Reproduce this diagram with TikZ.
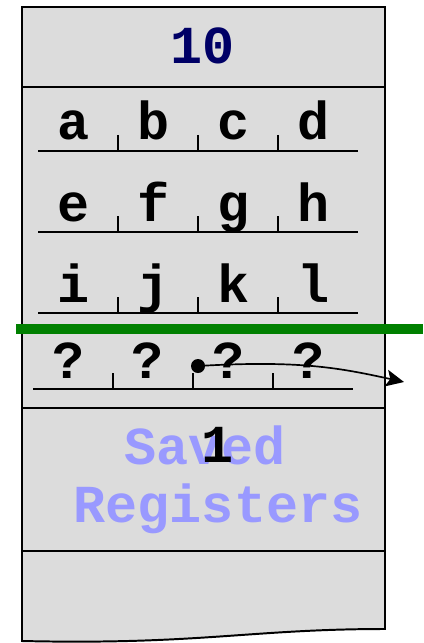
\documentclass[tikz,border=0pt]{standalone}
\usepackage{fontspec}
\setmonofont{Liberation Mono}
\usetikzlibrary{arrows.meta, positioning}
\definecolor{framegray}{HTML}{DCDCDC}
\definecolor{navyblue}{HTML}{000066}
\definecolor{regblue}{HTML}{9999FF}
\definecolor{bargreen}{HTML}{008000}

\begin{document}
\begin{tikzpicture}[
    x=0.025cm, y=-0.025cm,
    frame/.style={draw=black, line width=1.4pt},
    cell/.style={font=\ttfamily\bfseries\fontsize{38}{38}\selectfont,
                 anchor=base, inner sep=0pt},
    slots/.style={line width=1pt},
    arrow/.style={-{Stealth[length=4.5mm, width=4.2mm, inset=1mm]}, line width=1.2pt},
]
\useasboundingbox (0,0) rectangle (423,643);

% Stack frame outline
\path[frame, fill=framegray] (22,7) -- (385,7) -- (385,629)
    .. controls (250,629) and (200,645) .. (22,641) -- cycle;
\draw[frame] (22,87) -- (385,87);
\draw[frame] (22,408) -- (385,408);
\draw[frame] (22,551) -- (385,551);

\node[cell, text=navyblue] (ten) at (203,64) {10};

% Rows of bytes
\node[cell] (a) at (74,140) {a};
\node[cell] (b) at (154,140) {b};
\node[cell] (c) at (234,140) {c};
\node[cell] (d) at (314,140) {d};
\draw[slots] (38,151) -- (358,151)
    (118,135) -- (118,151) (198,135) -- (198,151) (278,135) -- (278,151);

\node[cell] (e) at (74,221) {e};
\node[cell] (f) at (154,221) {f};
\node[cell] (g) at (234,221) {g};
\node[cell] (h) at (314,221) {h};
\draw[slots] (38,232) -- (358,232)
    (118,216) -- (118,232) (198,216) -- (198,232) (278,216) -- (278,232);

\node[cell] (i) at (74,302) {i};
\node[cell] (j) at (154,302) {j};
\node[cell] (k) at (234,302) {k};
\node[cell] (l) at (314,302) {l};
\draw[slots] (38,313) -- (358,313)
    (118,297) -- (118,313) (198,297) -- (198,313) (278,297) -- (278,313);

\draw[bargreen, line width=7.8pt] (16,329) -- (423,329);

\node[cell] (q1) at (69,378) {?};
\node[cell] (q2) at (148,378) {?};
\node[cell] (q3) at (229,378) {?};
\node[cell] (q4) at (309,378) {?};
\draw[slots] (33,389) -- (353,389)
    (113,373) -- (113,389) (193,373) -- (193,389) (273,373) -- (273,389);

% Pointer out of the frame
\node[circle, fill=black, inner sep=0pt, minimum size=0.35cm] (ptr) at (198,366) {};
\coordinate (out) at (404,382);
\draw[arrow] (ptr.center) .. controls (300,360) and (340,368) .. (out);

% Saved registers
\node[cell, text=regblue] (saved) at (205,464) {Saved};
\node[cell, text=regblue] (regs) at (218,522) {Registers};
\node[cell] (one) at (218,462) {1};
\end{tikzpicture}
\end{document}
